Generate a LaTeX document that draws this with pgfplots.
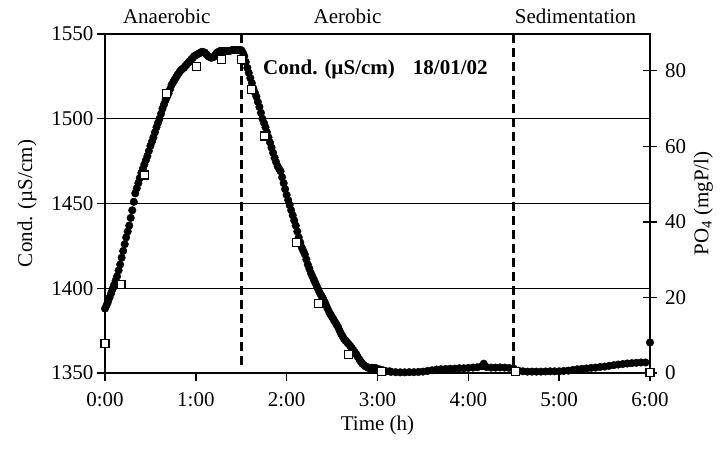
\documentclass[border=0pt]{standalone}
\usepackage{fontspec}
\setmainfont{Liberation Serif}
\usepackage{pgfplots}
\pgfplotsset{compat=1.18}

% Conductivity readings (time in hours, uS/cm)
\pgfplotstableread{
t C
0.000 1388
0.017 1390
0.033 1392
0.050 1394.5
0.067 1397
0.083 1399.5
0.100 1402
0.117 1404.5
0.133 1407
0.150 1410.5
0.167 1414
0.183 1418
0.200 1422
0.217 1426
0.233 1430
0.250 1433.5
0.267 1437
0.283 1441.5
0.300 1446
0.317 1451
0.333 1456
0.350 1459
0.367 1462
0.383 1465
0.400 1468
0.417 1470.5
0.433 1473
0.450 1475.5
0.467 1478
0.483 1481
0.500 1484
0.517 1486.5
0.533 1489
0.550 1492
0.567 1495
0.583 1497.5
0.600 1500
0.617 1503
0.633 1506
0.650 1508.5
0.667 1511
0.683 1513
0.700 1515
0.717 1517.5
0.733 1520
0.750 1521.5
0.767 1523
0.783 1524.5
0.800 1526
0.817 1527.3
0.833 1528.5
0.850 1529.3
0.867 1530
0.883 1531
0.900 1532
0.917 1533
0.933 1534
0.950 1535
0.967 1536
0.983 1537
1.000 1537.5
1.017 1538
1.033 1538.5
1.050 1539
1.067 1539.5
1.083 1539.3
1.100 1539
1.117 1538
1.133 1537
1.150 1536.5
1.167 1536
1.183 1536.2
1.200 1536.5
1.217 1537.8
1.233 1539
1.250 1539.5
1.267 1540
1.283 1540
1.300 1540
1.317 1540
1.333 1540
1.350 1540
1.367 1540
1.383 1540.2
1.400 1540.5
1.417 1540.5
1.433 1540.5
1.450 1540.5
1.467 1540.5
1.483 1540.5
1.500 1540.5
1.517 1539
1.533 1537
1.550 1533.5
1.567 1530
1.583 1527
1.600 1524
1.617 1521
1.633 1518
1.650 1515.5
1.667 1513
1.683 1510
1.700 1507
1.717 1503.5
1.733 1500
1.750 1497.5
1.767 1495
1.783 1492
1.800 1489
1.817 1486
1.833 1483
1.850 1480
1.867 1477
1.883 1474.5
1.900 1472
1.917 1470.5
1.933 1469
1.950 1465.5
1.967 1462
1.983 1458.5
2.000 1455
2.017 1452
2.033 1449
2.050 1446
2.067 1443
2.083 1440
2.100 1437
2.117 1433.5
2.133 1430
2.150 1427
2.167 1424
2.183 1422
2.200 1420
2.217 1417
2.233 1414
2.250 1411.5
2.267 1409
2.283 1407
2.300 1405
2.317 1403
2.333 1401
2.350 1399
2.367 1397
2.383 1395.5
2.400 1394
2.417 1392
2.433 1390
2.450 1388
2.467 1386
2.483 1384.5
2.500 1383
2.517 1381.5
2.533 1380
2.550 1378.5
2.567 1377
2.583 1375
2.600 1373
2.617 1371.5
2.633 1370
2.650 1369
2.667 1368
2.683 1367
2.700 1366
2.717 1364.7
2.733 1363.5
2.750 1362.2
2.767 1361
2.783 1359.5
2.800 1358
2.817 1356.7
2.833 1355.5
2.850 1354.7
2.867 1354
2.883 1353.5
2.900 1353
2.917 1353
2.933 1353
2.950 1353
2.967 1353
2.983 1352.8
3.000 1352.5
3.033 1352
3.067 1351.5
3.100 1351
3.133 1351
3.150 1350.7
3.200 1350.5
3.250 1350.4
3.300 1350.4
3.350 1350.5
3.400 1350.5
3.450 1350.6
3.500 1350.8
3.550 1351.2
3.600 1351.6
3.650 1352
3.700 1352.2
3.750 1352.4
3.800 1352.5
3.850 1352.6
3.900 1352.8
3.950 1352.8
4.000 1353
4.050 1353.2
4.100 1353.4
4.150 1354
4.170 1355.5
4.200 1353.5
4.250 1353.2
4.300 1353.2
4.350 1353.3
4.400 1353.2
4.450 1353
4.500 1352.6
4.550 1351.4
4.600 1351
4.650 1350.8
4.700 1350.8
4.750 1350.8
4.800 1350.8
4.850 1350.9
4.900 1351
4.950 1351
5.000 1351
5.050 1351.2
5.100 1351.4
5.150 1351.8
5.200 1352.2
5.250 1352.5
5.300 1352.7
5.350 1353
5.400 1353.2
5.450 1353.5
5.500 1353.8
5.550 1354.2
5.600 1354.6
5.650 1355
5.700 1355.3
5.750 1355.6
5.800 1355.8
5.850 1356
5.900 1356.2
5.950 1356.2
6.000 1368
}\conddata

% Phosphate samples (time in hours, mgP/l)
\pgfplotstableread{
t P
0.000 7.7
0.176 23.5
0.430 52.4
0.680 74.0
1.010 81.0
1.280 83.0
1.500 83.0
1.610 75.0
1.760 62.7
2.110 34.6
2.350 18.3
2.680 5.0
3.040 0.3
4.520 0.3
6.000 0.2
}\podata

\pgfplotsset{
  every axis/.append style={
    font=\fontsize{21bp}{25bp}\selectfont,
    /pgf/number format/assume math mode=true,
    /pgf/number format/1000 sep={},
    axis line style={line width=1.8bp},
    every tick/.style={black, line width=1.4bp},
  },
}

\begin{document}
\begin{tikzpicture}
\useasboundingbox (-105bp,-77bp) rectangle (615bp,373bp);
\begin{axis}[
  scale only axis, width=545bp, height=339bp,
  xmin=0, xmax=6, ymin=1350, ymax=1550,
  xtick={0,1,2,3,4,5,6},
  xticklabels={0:00,1:00,2:00,3:00,4:00,5:00,6:00},
  ytick={1350,1400,1450,1500,1550},
  xtick pos=bottom, ytick pos=left,
  tick align=outside, major tick length=8bp,
  xticklabel style={yshift=-8bp},
  ymajorgrids, grid style={black, line width=0.9bp},
  xlabel={Time (h)},
  xlabel style={yshift=-2bp},
  ylabel={Cond. (µS/cm)},
  ylabel style={yshift=8bp},
  clip=false,
]
  % phase boundaries
  \addplot[black, line width=3.2bp, dash pattern=on 9bp off 5bp]
    coordinates {(1.5,1550) (1.5,1354)};
  \addplot[black, line width=3.2bp, dash pattern=on 9bp off 5bp]
    coordinates {(4.5,1550) (4.5,1354)};
  \addplot[only marks, mark=*, mark size=3.8bp, black] table[x=t, y=C] {\conddata};
  \node[anchor=base] at (axis cs:0.68,1550) [yshift=10bp] {Anaerobic};
  \node[anchor=base] at (axis cs:2.67,1550) [yshift=10bp] {Aerobic};
  \node[anchor=base] at (axis cs:5.18,1550) [yshift=10bp] {Sedimentation};
  \node[anchor=west, inner sep=0pt, font=\fontsize{21bp}{25bp}\selectfont\bfseries]
    at (axis cs:1.74,1528.8) {Cond. (µS/cm)\hspace{18bp}18/01/02};
\end{axis}
\begin{axis}[
  scale only axis, width=545bp, height=339bp,
  xmin=0, xmax=6, ymin=0, ymax=89.7,
  axis y line*=right, axis x line=none,
  ytick={0,20,40,60,80},
  tick align=center, major tick length=13bp,
  yticklabel style={xshift=5bp},
  ylabel={PO\textsubscript{4} (mgP/l)},
  ylabel style={yshift=-1bp},
  clip=false,
]
  \addplot[only marks, mark=square*, mark size=4bp,
    mark options={fill=white, draw=black, line width=1.1bp}]
    table[x=t, y=P] {\podata};
\end{axis}
\end{tikzpicture}
\end{document}
